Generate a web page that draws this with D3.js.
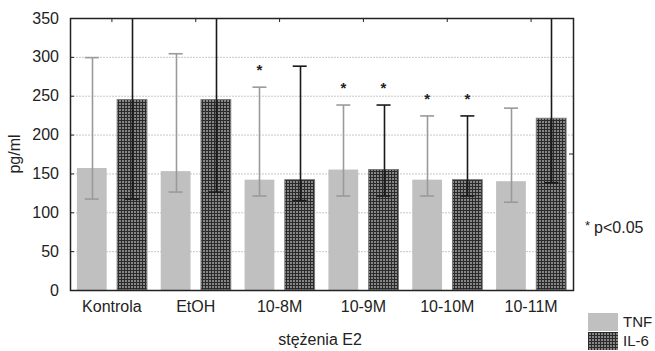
<!DOCTYPE html>
<html>
<head>
<meta charset="utf-8">
<script src="https://cdn.jsdelivr.net/npm/d3@7"></script>
<style>
  body { margin: 0; background: #fff; }
  text { font-family: Arial, "Liberation Sans", sans-serif; fill: #222; }
</style>
</head>
<body>
<div id="chart"></div>
<script>
var categories = ["Kontrola", "EtOH", "10-8M", "10-9M", "10-10M", "10-11M"];
var tnfMean = [157, 153, 142, 155, 142, 140];
var tnfLow  = [117, 126, 121, 121, 121, 113];
var tnfHigh = [299, 304, 261, 238, 224, 234];
var il6Mean = [245, 245, 142, 155, 142, 221];
var il6Low  = [117, 126, 115, 121, 121, 138];
var il6High = [400, 400, 288, 238, 224, 400];
var tnfStar = [false, false, true, true, true, false];
var il6Star = [false, false, false, true, true, false];
var yTicks = [0, 50, 100, 150, 200, 250, 300, 350];

var margin = {top: 18, right: 82, bottom: 61, left: 70};
var width = 655 - margin.left - margin.right;
var height = 351 - margin.top - margin.bottom;
var fs = "16px";

var svg = d3.select("#chart").append("svg")
    .attr("width", 655)
    .attr("height", 351);

var defs = svg.append("defs");
var pat = defs.append("pattern")
    .attr("id", "grid")
    .attr("patternUnits", "userSpaceOnUse")
    .attr("width", 3).attr("height", 3);
pat.append("rect").attr("width", 3).attr("height", 3).attr("fill", "#868686");
pat.append("rect").attr("width", 3).attr("height", 1).attr("fill", "#2a2a2a");
pat.append("rect").attr("width", 1).attr("height", 3).attr("fill", "#2a2a2a");

defs.append("clipPath").attr("id", "plotclip")
  .append("rect").attr("width", width).attr("height", height);

var g = svg.append("g")
    .attr("transform", "translate(" + margin.left + "," + margin.top + ")");

var x = d3.scaleBand().domain(categories).range([0, width]).padding(0);
var y = d3.scaleLinear().domain([0, 350]).range([height, 0]);
var sub = d3.scaleBand().domain(["TNF", "IL-6"]).range([-35, 35]).paddingInner(0.26);

// grid
g.selectAll(".grid").data(yTicks.slice(1, -1)).enter().append("line")
    .attr("x1", 0).attr("x2", width)
    .attr("y1", function(d) { return y(d) + 0.5; })
    .attr("y2", function(d) { return y(d) + 0.5; })
    .attr("stroke", "#c8c8c8").attr("stroke-dasharray", "2,1");

var plot = g.append("g").attr("clip-path", "url(#plotclip)");

var rows = categories.map(function(c, i) {
  return [
    {cat: c, s: "TNF", m: tnfMean[i], lo: tnfLow[i], hi: tnfHigh[i], star: tnfStar[i]},
    {cat: c, s: "IL-6", m: il6Mean[i], lo: il6Low[i], hi: il6High[i], star: il6Star[i]}
  ];
});
var flat = [].concat.apply([], rows);

function cx(d) { return x(d.cat) + x.bandwidth() / 2 + sub(d.s) + sub.bandwidth() / 2; }

plot.selectAll(".bar").data(flat).enter().append("rect")
    .attr("x", function(d) { return x(d.cat) + x.bandwidth() / 2 + sub(d.s); })
    .attr("width", sub.bandwidth())
    .attr("y", function(d) { return y(d.m); })
    .attr("height", function(d) { return height - y(d.m); })
    .attr("fill", function(d) { return d.s == "TNF" ? "#c0c0c0" : "url(#grid)"; })
    .attr("stroke", function(d) { return d.s == "TNF" ? "none" : "#777"; })
    .attr("stroke-width", 1);

// error bars
plot.selectAll(".err").data(flat).enter().append("line")
    .attr("x1", function(d) { return Math.round(cx(d)) + 0.5; })
    .attr("x2", function(d) { return Math.round(cx(d)) + 0.5; })
    .attr("y1", function(d) { return y(d.lo); })
    .attr("y2", function(d) { return y(d.hi); })
    .attr("stroke", function(d) { return d.s == "TNF" ? "#9a9a9a" : "#1a1a1a"; })
    .attr("stroke-width", 1.6);

var caps = [];
flat.forEach(function(d) {
  caps.push({d: d, v: d.lo});
  if (d.hi <= 350) caps.push({d: d, v: d.hi});
});
plot.selectAll(".cap").data(caps).enter().append("line")
    .attr("x1", function(c) { return cx(c.d) - 7; })
    .attr("x2", function(c) { return cx(c.d) + 7; })
    .attr("y1", function(c) { return y(c.v); })
    .attr("y2", function(c) { return y(c.v); })
    .attr("stroke", function(c) { return c.d.s == "TNF" ? "#9a9a9a" : "#1a1a1a"; })
    .attr("stroke-width", 1.6);

g.selectAll(".star").data(flat.filter(function(d) { return d.star; })).enter().append("text")
    .attr("x", function(d) { return cx(d); })
    .attr("y", function(d) { return y(d.hi) - 12; })
    .attr("text-anchor", "middle")
    .style("font-size", "15px")
    .style("font-weight", "bold")
    .text("*");

// frame
g.append("rect").attr("x", 0.5).attr("y", 0.5).attr("width", width).attr("height", height)
    .attr("fill", "none").attr("stroke", "#222").attr("stroke-width", 1.5);

// left axis ticks (inward)
var axisY = d3.axisLeft(y).tickValues(yTicks).tickSize(-4).tickPadding(11);
var ay = g.append("g").attr("class", "axis axis--y").call(axisY);
ay.select(".domain").remove();
ay.selectAll("line").attr("stroke", "#222");
ay.selectAll("text").style("font-size", fs).attr("fill", "#222");

// top axis ticks (inward)
var axisTop = d3.axisTop(x).tickSize(-4).tickFormat("");
var at = g.append("g").call(axisTop);
at.select(".domain").remove();
at.selectAll("line").attr("stroke", "#222");

// right axis odd tick
g.append("line").attr("x1", width - 4).attr("x2", width).attr("y1", y(175)).attr("y2", y(175))
    .attr("stroke", "#222");

// bottom labels
var axisX = d3.axisBottom(x).tickSize(0).tickPadding(11);
var ax = g.append("g").attr("transform", "translate(0," + height + ")").call(axisX);
ax.select(".domain").remove();
ax.selectAll("text").style("font-size", fs).attr("fill", "#222");

svg.append("text")
    .attr("x", 320).attr("y", 345)
    .attr("text-anchor", "middle")
    .style("font-size", fs)
    .text("stężenia E2");

svg.append("text")
    .attr("transform", "translate(20," + (margin.top + height / 2) + ") rotate(-90)")
    .attr("text-anchor", "middle")
    .style("font-size", fs)
    .text("pg/ml");

var note = svg.append("text").attr("x", 585).attr("y", 233).style("font-size", fs);
note.append("tspan").attr("dy", -3).style("font-size", "13px").text("*");
note.append("tspan").attr("dx", 4).attr("dy", 3).text("p<0.05");

// legend
var legend = [{name: "TNF", fill: "#c0c0c0"}, {name: "IL-6", fill: "url(#grid)"}];
var lg = svg.selectAll(".legend").data(legend).enter().append("g")
    .attr("transform", function(d, i) { return "translate(588," + (313 + i * 19) + ")"; });
lg.append("rect").attr("width", 30).attr("height", 18).attr("fill", function(d) { return d.fill; });
lg.append("text").attr("x", 35).attr("y", 14).style("font-size", "15px").text(function(d) { return d.name; });
</script>
</body>
</html>
